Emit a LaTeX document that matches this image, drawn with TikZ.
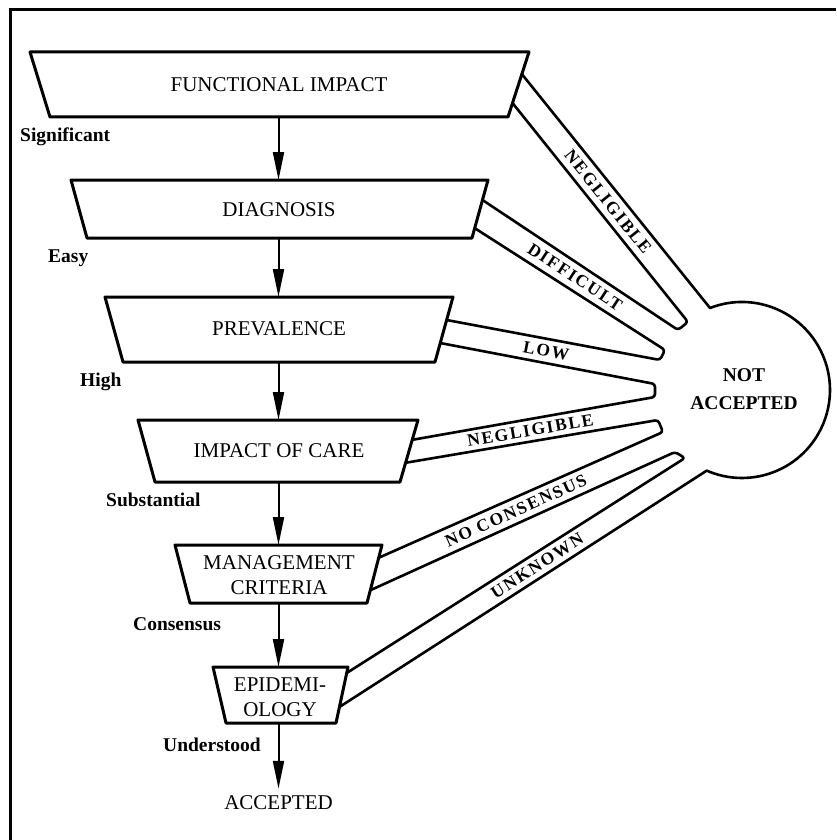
\documentclass[tikz,border=0pt]{standalone}
\usepackage{fontspec}
\setmainfont{Liberation Serif}
\newfontfamily\bandfont{Liberation Serif}[LetterSpace=10]
\usetikzlibrary{arrows.meta,calc}
\begin{document}
\begin{tikzpicture}[x=1pt,y=-1pt,
  box/.style={draw=black,line width=3pt,line join=round},
  band/.style={draw=black,line width=2.6pt,line join=round},
  flow/.style={draw=black,line width=2pt,-{Triangle[length=28pt,width=11pt]}},
  boxtext/.style={inner sep=0pt,font=\fontsize{21}{25}\selectfont,align=center},
  sidetext/.style={inner sep=0pt,anchor=base west,font=\fontsize{19.5}{22}\selectfont\bfseries},
  bandtext/.style={inner sep=0pt,font=\bandfont\fontsize{17.5}{20}\selectfont\bfseries,sloped},
  ]
\useasboundingbox (0,0) rectangle (836,840);
\draw[line width=3pt] (10,840) -- (10,10) -- (836,10);

% boxes (inverted trapezoids)
\coordinate (fi-tl) at (30,52);   \coordinate (fi-tr) at (529,52);
\coordinate (fi-br) at (508,117); \coordinate (fi-bl) at (50,117);
\coordinate (dg-tl) at (71,180);  \coordinate (dg-tr) at (488,180);
\coordinate (dg-br) at (472,238); \coordinate (dg-bl) at (87,238);
\coordinate (pv-tl) at (105,297); \coordinate (pv-tr) at (453,297);
\coordinate (pv-br) at (435,362); \coordinate (pv-bl) at (123,362);
\coordinate (ic-tl) at (138,420); \coordinate (ic-tr) at (418,420);
\coordinate (ic-br) at (400,482); \coordinate (ic-bl) at (155,482);
\coordinate (mg-tl) at (175,545); \coordinate (mg-tr) at (382,545);
\coordinate (mg-br) at (367,603); \coordinate (mg-bl) at (190,603);
\coordinate (ep-tl) at (213,667); \coordinate (ep-tr) at (348,667);
\coordinate (ep-br) at (336,723); \coordinate (ep-bl) at (226,723);

\foreach \b in {fi,dg,pv,ic,mg,ep}{
  \draw[box] (\b-tl) -- (\b-tr) -- (\b-br) -- (\b-bl) -- cycle;
}

\node[boxtext] (fi) at (279,84.5) {FUNCTIONAL IMPACT};
\node[boxtext] (dg) at (279,210) {DIAGNOSIS};
\node[boxtext] (pv) at (279,329) {PREVALENCE};
\node[boxtext] (ic) at (279,451) {IMPACT OF CARE};
\node[boxtext] (mg) at (279,575) {MANAGEMENT\\CRITERIA};
\node[boxtext] (ep) at (280,697) {EPIDEMI-\\OLOGY};
\node[boxtext,inner ysep=7pt] (acc) at (278.5,803) {ACCEPTED};

% vertical flow
\coordinate (a1) at (278.5,117); \coordinate (b1) at (278.5,180);
\coordinate (a2) at (278.5,238); \coordinate (b2) at (278.5,297);
\coordinate (a3) at (278.5,362); \coordinate (b3) at (278.5,420);
\coordinate (a4) at (278.5,482); \coordinate (b4) at (278.5,545);
\coordinate (a5) at (278.5,603); \coordinate (b5) at (278.5,667);
\coordinate (a6) at (278.5,723);
\draw[flow] (a1) -- (b1);
\draw[flow] (a2) -- (b2);
\draw[flow] (a3) -- (b3);
\draw[flow] (a4) -- (b4);
\draw[flow] (a5) -- (b5);
\draw[flow] (a6) -- (acc.north);

% side labels
\node[sidetext] (s1) at (20,141) {Significant};
\node[sidetext] (s2) at (48,262) {Easy};
\node[sidetext] (s3) at (80,386) {High};
\node[sidetext] (s4) at (106,506) {Substantial};
\node[sidetext] (s5) at (133,630) {Consensus};
\node[sidetext] (s6) at (163,751) {Understood};

% band attach points on the right sides
\coordinate (fi-u) at ($(fi-tr)!0.34!(fi-br)$);  \coordinate (fi-l) at ($(fi-tr)!0.785!(fi-br)$);
\coordinate (dg-u) at ($(dg-tr)!0.345!(dg-br)$); \coordinate (dg-l) at ($(dg-tr)!0.83!(dg-br)$);
\coordinate (pv-u) at ($(pv-tr)!0.354!(pv-br)$); \coordinate (pv-l) at ($(pv-tr)!0.708!(pv-br)$);
\coordinate (ic-u) at ($(ic-tr)!0.32!(ic-br)$);  \coordinate (ic-l) at ($(ic-tr)!0.69!(ic-br)$);
\coordinate (mg-u) at ($(mg-tr)!0.22!(mg-br)$);  \coordinate (mg-l) at ($(mg-tr)!0.78!(mg-br)$);
\coordinate (ep-u) at ($(ep-tr)!0.107!(ep-br)$); \coordinate (ep-l) at ($(ep-tr)!0.714!(ep-br)$);

% gap ends near the circle
\coordinate (c1) at (710,308); \coordinate (c2) at (706.8,470.6);
\coordinate (g1a) at (688,322); \coordinate (g1b) at (678,330);
\coordinate (g2a) at (665,350); \coordinate (g2b) at (660,360);
\coordinate (g3a) at (655,384); \coordinate (g3b) at (655,397);
\coordinate (g4a) at (658,420); \coordinate (g4b) at (663,432);
\coordinate (g5a) at (675,452); \coordinate (g5b) at (685,458);

\draw[band] (fi-u) -- (c1) arc[start angle=-111.3,end angle=113.6,radius=88] -- (ep-l);
\draw[band,rounded corners=3pt] (fi-l) -- (g1a) -- (g1b) -- (dg-u);
\draw[band,rounded corners=3pt] (dg-l) -- (g2a) -- (g2b) -- (pv-u);
\draw[band,rounded corners=3pt] (pv-l) -- (g3a) -- (g3b) -- (ic-u);
\draw[band,rounded corners=3pt] (ic-l) -- (g4a) -- (g4b) -- (mg-u);
\draw[band,rounded corners=3pt] (mg-l) -- (g5a) -- (g5b) -- (ep-u);

\node[inner sep=0pt,align=center,font=\fontsize{19.5}{28}\selectfont\bfseries] (na) at (744,389) {NOT\\ACCEPTED};

% band labels
\path ($(fi-u)!.5!(fi-l)$) -- ($(c1)!.5!(g1a)$) node[bandtext,pos=0.5] (t1) {NEGLIGIBLE};
\path ($(dg-u)!.5!(dg-l)$) -- ($(g1b)!.5!(g2a)$) node[bandtext,pos=0.5] (t2) {DIFFICULT};
\path ($(pv-u)!.5!(pv-l)$) -- ($(g2b)!.5!(g3a)$) node[bandtext,pos=0.48] (t3) {LOW};
\path ($(ic-u)!.5!(ic-l)$) -- ($(g3b)!.5!(g4a)$) node[bandtext,pos=0.49] (t4) {NEGLIGIBLE};
\path ($(mg-u)!.5!(mg-l)$) -- ($(g4b)!.5!(g5a)$) node[bandtext,pos=0.48] (t5) {NO CONSENSUS};
\path ($(ep-u)!.5!(ep-l)$) -- ($(g5b)!.5!(c2)$) node[bandtext,pos=0.55] (t6) {UNKNOWN};
\end{tikzpicture}
\end{document}
